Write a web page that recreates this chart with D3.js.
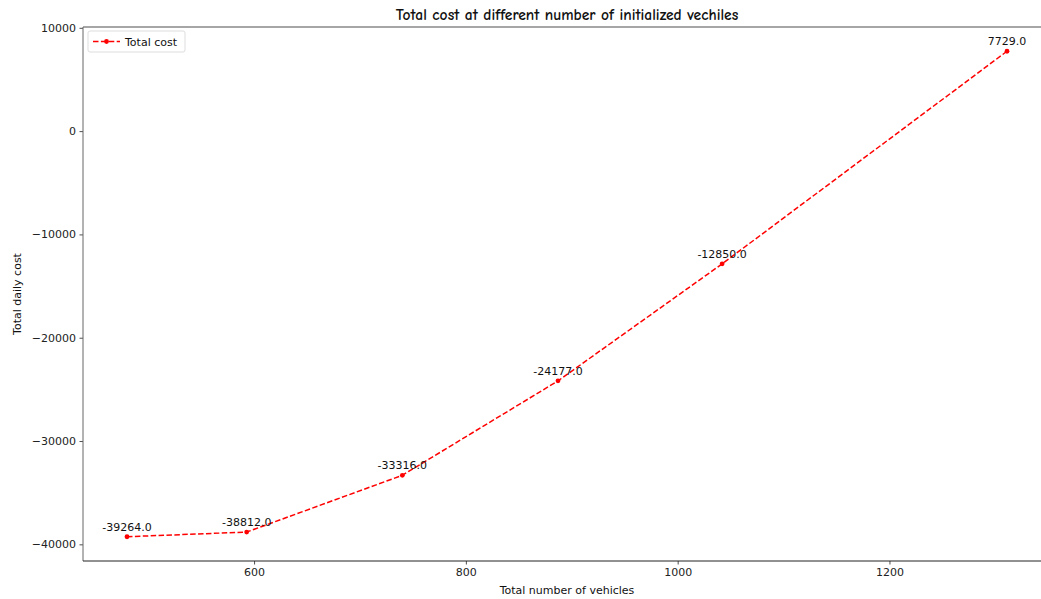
<!DOCTYPE html>
<html>
<head>
<meta charset="utf-8">
<script src="https://cdn.jsdelivr.net/npm/d3@7"></script>
<style>
  html, body { margin: 0; padding: 0; background: #fff; }
  svg { display: block; font-family: "DejaVu Sans", sans-serif; }
</style>
</head>
<body>
<svg id="chart" width="1041" height="599"></svg>
<script>
// Number of vehicles initialised and the resulting total daily cost
const vehicles = [480, 593, 740, 887, 1042, 1311];
const totalCost = [-39264.0, -38812.0, -33316.0, -24177.0, -12850.0, 7729.0];
const xTicks = [600, 800, 1000, 1200];
const yTicks = [10000, 0, -10000, -20000, -30000, -40000];

const svg = d3.select("#chart");
const plot = { left: 83, right: 1051, top: 27, bottom: 561 };

// 5% padding around the data range on both axes
const xMin = d3.min(vehicles), xMax = d3.max(vehicles);
const yMin = d3.min(totalCost), yMax = d3.max(totalCost);
const xPad = (xMax - xMin) * 0.05, yPad = (yMax - yMin) * 0.05;

const x = d3.scaleLinear().domain([xMin - xPad, xMax + xPad]).range([plot.left, plot.right]);
const y = d3.scaleLinear().domain([yMin - yPad, yMax + yPad]).range([plot.bottom, plot.top]);

const fmtTick = v => (v < 0 ? "\u2212" + Math.abs(v) : String(v));

// Axes
const xAxis = svg.append("g")
  .attr("transform", `translate(0,${plot.bottom})`)
  .call(d3.axisBottom(x).tickValues(xTicks).tickSize(3.5).tickPadding(3.5).tickFormat(d => d));
const yAxis = svg.append("g")
  .attr("transform", `translate(${plot.left},0)`)
  .call(d3.axisLeft(y).tickValues(yTicks).tickSize(3.5).tickPadding(3.5).tickFormat(fmtTick));

[xAxis, yAxis].forEach(g => {
  g.select(".domain").remove();
  g.selectAll(".tick line").attr("stroke", "#222").attr("stroke-width", 0.8);
  g.selectAll(".tick text").attr("fill", "#222").style("font-size", "11px")
    .style("font-family", "'DejaVu Sans', sans-serif");
});

// Frame
svg.append("line").attr("x1", plot.left).attr("x2", plot.right)
  .attr("y1", plot.top).attr("y2", plot.top).attr("stroke", "#888").attr("stroke-width", 1.6);
svg.append("line").attr("x1", plot.left).attr("x2", plot.left)
  .attr("y1", plot.top).attr("y2", plot.bottom).attr("stroke", "#666").attr("stroke-width", 1);
svg.append("line").attr("x1", plot.left).attr("x2", plot.right)
  .attr("y1", plot.bottom).attr("y2", plot.bottom).attr("stroke", "#222").attr("stroke-width", 1);

// Cost line
const pts = vehicles.map((v, i) => ({ v, c: totalCost[i] }));
svg.append("path")
  .datum(pts)
  .attr("fill", "none")
  .attr("stroke", "#ff0000")
  .attr("stroke-width", 1.5)
  .attr("stroke-dasharray", "5.5,2.4")
  .attr("d", d3.line().x(d => x(d.v)).y(d => y(d.c)));

svg.selectAll("circle.pt").data(pts).enter().append("circle")
  .attr("class", "pt")
  .attr("cx", d => x(d.v)).attr("cy", d => y(d.c)).attr("r", 2.4)
  .attr("fill", "#ff0000");

// Value labels
svg.selectAll("text.val").data(pts).enter().append("text")
  .attr("class", "val")
  .attr("x", d => x(d.v)).attr("y", d => y(d.c) - 6)
  .attr("text-anchor", "middle")
  .attr("fill", "#111")
  .style("font-size", "11px")
  .text(d => d.c.toFixed(1));

// Title and axis labels
svg.append("text")
  .attr("x", (plot.left + plot.right) / 2).attr("y", 20)
  .attr("text-anchor", "middle")
  .style("font-family", "'Comic Sans MS', 'Comic Neue', 'Lato', sans-serif")
  .style("font-size", "15.5px")
  .style("font-weight", "600")
  .attr("fill", "#111")
  .text("Total cost at different number of initialized vechiles");

svg.append("text")
  .attr("x", (plot.left + plot.right) / 2).attr("y", 594)
  .attr("text-anchor", "middle")
  .style("font-size", "11px").attr("fill", "#111")
  .text("Total number of vehicles");

svg.append("text")
  .attr("transform", `translate(21,${(plot.top + plot.bottom) / 2}) rotate(-90)`)
  .attr("text-anchor", "middle")
  .style("font-size", "11px").attr("fill", "#111")
  .text("Total daily cost");

// Legend
const lg = svg.append("g").attr("transform", "translate(88,31)");
lg.append("rect").attr("width", 97).attr("height", 21).attr("rx", 2)
  .attr("fill", "#fff").attr("fill-opacity", 0.8)
  .attr("stroke", "#ddd").attr("stroke-width", 1);
lg.append("line").attr("x1", 5).attr("x2", 32).attr("y1", 10.5).attr("y2", 10.5)
  .attr("stroke", "#ff0000").attr("stroke-width", 1.5).attr("stroke-dasharray", "5.5,2.4");
lg.append("circle").attr("cx", 18.5).attr("cy", 10.5).attr("r", 2.4).attr("fill", "#ff0000");
lg.append("text").attr("x", 37).attr("y", 14.5)
  .style("font-size", "11px").attr("fill", "#111").text("Total cost");
</script>
</body>
</html>
